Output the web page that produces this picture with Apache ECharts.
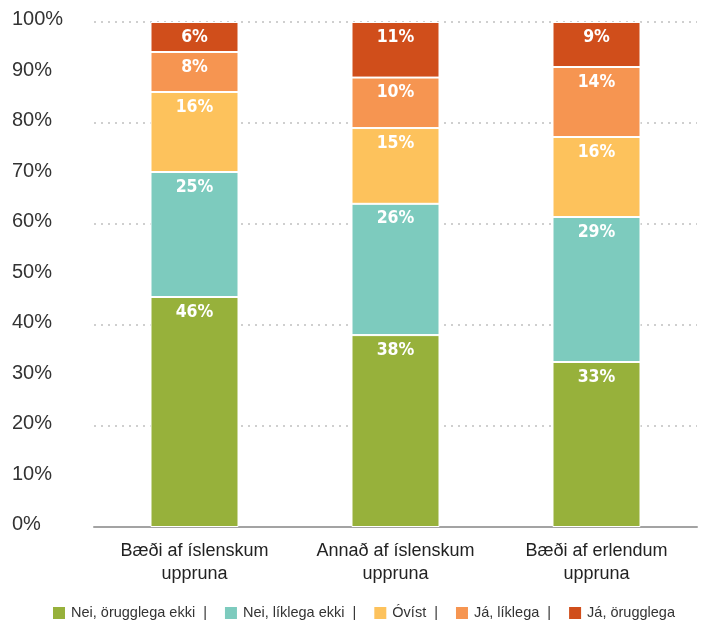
<!DOCTYPE html>
<html>
<head>
<meta charset="utf-8">
<script src="https://cdn.jsdelivr.net/npm/echarts@6/dist/echarts.min.js"></script>
<style>html,body{margin:0;padding:0;background:#fff}#c{width:710px;height:626px}</style>
</head>
<body>
<div id="c"></div>
<script>
const categories = ['Bæði af íslenskum\nuppruna', 'Annað af íslenskum\nuppruna', 'Bæði af erlendum\nuppruna'];
const seriesNames = ['Nei, örugglega ekki', 'Nei, líklega ekki', 'Óvíst', 'Já, líklega', 'Já, örugglega'];
const neiOrugglega = [46, 38, 33];
const neiLiklega = [25, 26, 29];
const ovist = [16, 15, 16];
const jaLiklega = [8, 10, 14];
const jaOrugglega = [6, 11, 9];
const yTicks = [0, 10, 20, 30, 40, 50, 60, 70, 80, 90, 100];

const colors = ['#97b13b', '#7dcbbe', '#fdc25c', '#f69551', '#d04e1b'];
const allSeries = [neiOrugglega, neiLiklega, ovist, jaLiklega, jaOrugglega];
// totals per category, used to draw each bar as a 100% stack
const totals = categories.map((c, i) => allSeries.reduce((s, arr) => s + arr[i], 0));

const chart = echarts.init(document.getElementById('c'), null, {renderer: 'canvas'});
const labelFont = '"DejaVu Sans Condensed", "DejaVu Sans", sans-serif';
const textFont = '"Liberation Sans", Arial, sans-serif';

chart.setOption({
  animation: false,
  backgroundColor: '#fff',
  grid: {left: 94, right: 13, top: 22, bottom: 99},
  legend: {
    left: 51, top: 605, padding: 0, itemWidth: 14, itemHeight: 14, itemGap: 16,
    icon: 'rect',
    data: seriesNames,
    formatter: function (n) { return n === seriesNames[seriesNames.length - 1] ? n : n + '  |'; },
    textStyle: {fontSize: 14.5, color: '#333', fontFamily: textFont}
  },
  xAxis: {
    type: 'category',
    data: categories,
    axisLine: {lineStyle: {color: '#a3a3a3', width: 2}},
    axisTick: {show: false},
    axisLabel: {interval: 0, fontSize: 18, color: '#222', lineHeight: 23, margin: 13, fontFamily: textFont}
  },
  yAxis: [{
    type: 'value', min: 0, max: 100, interval: 10,
    axisLine: {show: false}, axisTick: {show: false},
    splitLine: {show: false},
    axisLabel: {
      align: 'left', margin: 82, fontSize: 20, color: '#333',
      fontFamily: textFont,
      verticalAlign: 'bottom', lineHeight: 5,
      formatter: function (v) { return yTicks.indexOf(v) >= 0 ? v + '%' : ''; }
    }
  }, {
    type: 'value', min: 0, max: 100, interval: 20, position: 'left',
    axisLine: {show: false}, axisTick: {show: false}, axisLabel: {show: false},
    splitLine: {show: true, lineStyle: {color: '#cfcfcf', width: 2, type: [2, 5]}}
  }],
  series: allSeries.map((arr, si) => ({
    name: seriesNames[si],
    type: 'bar',
    stack: 'all',
    barWidth: 88,
    yAxisIndex: 0,
    itemStyle: {color: colors[si], borderColor: '#fff', borderWidth: 1},
    label: {
      show: true, position: 'insideTop', distance: 6,
      color: '#fff', fontWeight: 'bold', fontSize: 17.5, fontFamily: labelFont,
      formatter: function (p) { return arr[p.dataIndex] + '%'; }
    },
    data: arr.map((v, i) => v / totals[i] * 100)
  }))
});
</script>
</body>
</html>
